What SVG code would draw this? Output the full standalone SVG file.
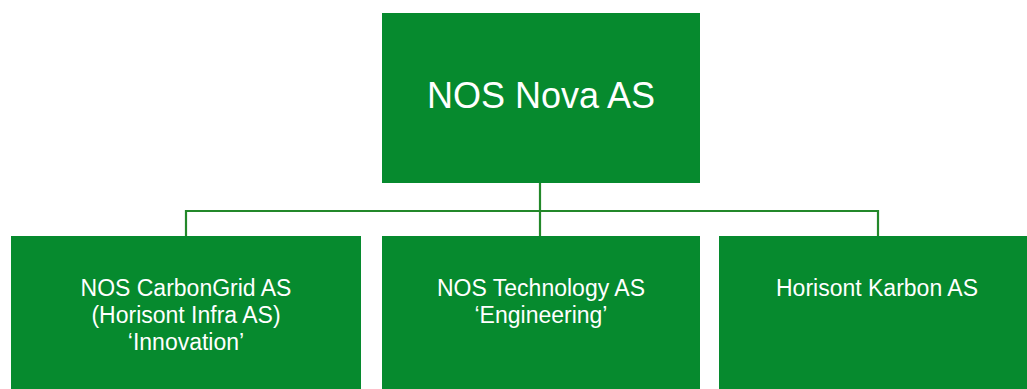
<svg xmlns="http://www.w3.org/2000/svg" width="1027" height="389" viewBox="0 0 1027 389">
<style>
.box{fill:#068A2E}
.t{fill:#ffffff;font-family:"Liberation Sans",Arial,sans-serif;text-anchor:middle}
.big{font-size:36px}
.sm{font-size:23px}
.ln{fill:none;stroke:#23882A;stroke-width:2.2}
</style>
<rect width="1027" height="389" fill="#ffffff"/>
<g id="connectors">
<path class="ln" d="M540,183 V237"/>
<path class="ln" d="M186,237 V211 H878 V237"/>
</g>
<g id="nos-nova">
<rect class="box" x="382" y="13" width="318" height="170"/>
<text class="t big" x="541" y="108">NOS Nova AS</text>
</g>
<g id="nos-carbongrid">
<rect class="box" x="11" y="236" width="350" height="153"/>
<text class="t sm" x="186" y="296">NOS CarbonGrid AS</text>
<text class="t sm" x="186" y="323">(Horisont Infra AS)</text>
<text class="t sm" x="186" y="350">‘Innovation’</text>
</g>
<g id="nos-technology">
<rect class="box" x="382" y="236" width="318" height="153"/>
<text class="t sm" x="541" y="296">NOS Technology AS</text>
<text class="t sm" x="541" y="323">‘Engineering’</text>
</g>
<g id="horisont-karbon">
<rect class="box" x="719" y="236" width="318" height="153"/>
<text class="t sm" x="877" y="296">Horisont Karbon AS</text>
</g>
</svg>
